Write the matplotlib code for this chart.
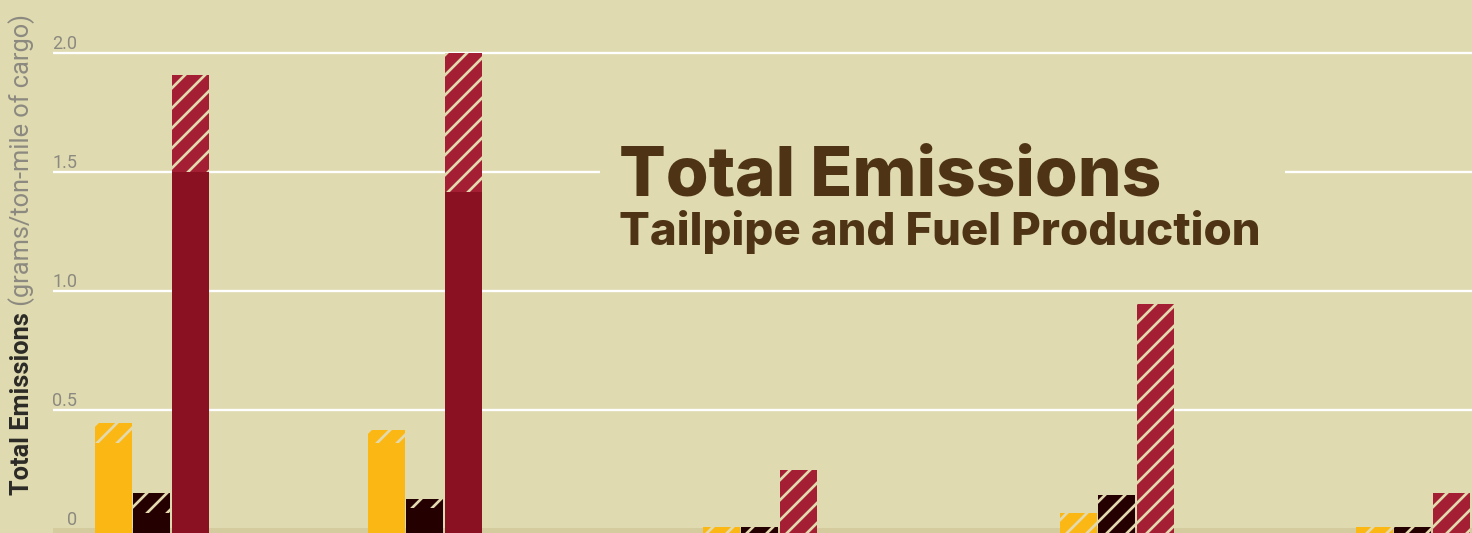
import matplotlib
matplotlib.use("Agg")
import matplotlib.pyplot as plt
import numpy as np

# ---- data ----
tailpipe_yellow = [0.361, 0.361, 0.0, 0.0, 0.0]
fuel_yellow = [0.084, 0.055, 0.010, 0.067, 0.008]
tailpipe_dark = [0.067, 0.088, 0.0, 0.0, 0.0]
fuel_dark = [0.084, 0.038, 0.010, 0.143, 0.008]
tailpipe_red = [1.500, 1.416, 0.0, 0.0, 0.0]
fuel_red = [0.408, 0.584, 0.248, 0.945, 0.151]
yticks = [0, 0.5, 1.0, 1.5, 2.0]
ytick_labels = ["0", "0.5", "1.0", "1.5", "2.0"]

# ---- layout ----
W, H, DPI = 1472, 533, 120
BG = "#dfdab0"
group_pos = [151.5, 424.5, 759.5, 1116.5, 1412.5]
bar_w = 37
step = 38.5

plt.rcParams['hatch.linewidth'] = 1.6
fig = plt.figure(figsize=(W / DPI, H / DPI), dpi=DPI, facecolor=BG)
ax = fig.add_axes([53 / W, 0, 1 - 53 / W, 1])
ax.set_facecolor(BG)
ylo = -0.017
ax.set_ylim(ylo, 529 / 238)
ax.set_xlim(53, 1472)
for s in ax.spines.values():
    s.set_visible(False)
ax.set_xticks([])
ax.set_yticks([])

# gridlines
for v in yticks[1:]:
    ax.axhline(v, color="white", lw=1.4, zorder=1)
ax.axhspan(ylo, 0.004, color="#d4cc9f", zorder=1.5, lw=0)

lfam = ["Roboto", "DejaVu Sans"]
# tick labels above gridlines
for v, lab in zip(yticks, ytick_labels):
    ax.annotate(lab, xy=(77, v), xycoords="data", xytext=(0, 2.2), textcoords="offset points",
                ha="right", va="baseline", fontsize=10.8, color="#8c8a80", zorder=5,
                family=lfam)

series = [
    (tailpipe_yellow, fuel_yellow, "#fbb814", "#fbb814", -step),
    (tailpipe_dark, fuel_dark, "#250000", "#250000", 0),
    (tailpipe_red, fuel_red, "#8a1122", "#a41f33", step),
]
x = np.array(group_pos)
for solid, hatched, c_solid, c_hatch, off in series:
    solid = np.array(solid)
    hatched = np.array(hatched)
    top = solid + hatched
    has_solid = solid > 0
    ax.bar(x[has_solid] + off, solid[has_solid] - ylo, bottom=ylo, width=bar_w,
           color=c_solid, lw=0, zorder=2)
    hb = np.where(has_solid, solid, ylo)
    ax.bar(x + off, top - hb, bottom=hb, width=bar_w, color=c_hatch,
           edgecolor="#e3d9ae", hatch="//", lw=0, zorder=2)

# title box
fam = ["Inter", "Open Sans", "DejaVu Sans"]
box = plt.Rectangle((600 / W, 1 - 260 / H), 685 / W, 125 / H, transform=fig.transFigure,
                    facecolor=BG, edgecolor="none", zorder=3)
fig.patches.append(box)
fig.text(619 / W, 1 - 195 / H, "Total Emissions", family=fam, fontweight="heavy",
         fontsize=41.5, color="#4e3415", ha="left", va="baseline", zorder=4)
fig.text(619 / W, 1 - 245 / H, "Tailpipe and Fuel Production", family=fam, fontweight="heavy",
         fontsize=27.3, color="#4e3415", ha="left", va="baseline", zorder=4)

# y label
t1 = fig.text(22 / W, 1 - 495 / H, "Total Emissions", rotation=90, fontweight="bold",
              fontsize=15.2, color="#2b2a26", ha="center", va="bottom", family=lfam)
ax.annotate(" (grams/ton-mile of cargo)", xy=(0.5, 1), xycoords=t1, ha="center", va="bottom",
            rotation=90, fontsize=15.2, color="#8c8a80", family=lfam,
            annotation_clip=False)

fig.savefig("out.png", dpi=DPI, facecolor=BG)
